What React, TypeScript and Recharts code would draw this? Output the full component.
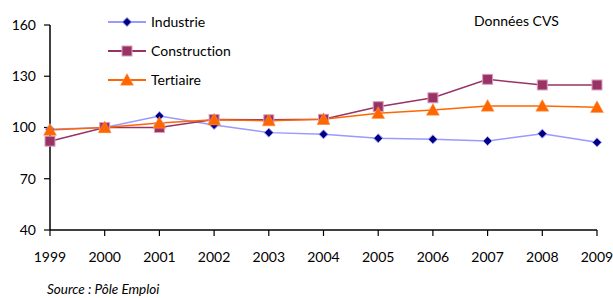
import { Line, LineChart, XAxis, YAxis } from "recharts";

const years = ["1999", "2000", "2001", "2002", "2003", "2004", "2005", "2006", "2007", "2008", "2009"];
const industrie = [99, 100, 106.7, 101.5, 97, 96, 93.7, 93.1, 92.1, 96.4, 91.3];
const construction = [92, 100, 100, 104.7, 104.5, 104.8, 112.2, 117.4, 128.2, 124.9, 124.9];
const tertiaire = [98.5, 100, 102.6, 104.5, 104, 104.8, 108.3, 110.2, 112.6, 112.6, 111.8];
const yTicks = [40, 70, 100, 130, 160];

const data = years.map((year, i) => ({
  year,
  industrie: industrie[i],
  construction: construction[i],
  tertiaire: tertiaire[i],
}));

const FONT = "Lato, 'Open Sans', sans-serif";

const series = [
  { key: "industrie", name: "Industrie", line: "#9999ff", fill: "#000080", stroke: "#9999ff", shape: "diamond" },
  { key: "construction", name: "Construction", line: "#993366", fill: "#993366", stroke: "#d9a0bc", shape: "square" },
  { key: "tertiaire", name: "Tertiaire", line: "#ff6600", fill: "#ff6600", stroke: "#ff9950", shape: "triangle" },
];

function Marker({ cx, cy, shape, fill, stroke }: { cx: number; cy: number; shape: string; fill: string; stroke: string }) {
  if (cx == null || cy == null) return null;
  if (shape === "diamond") {
    const r = 4.5;
    return (
      <polygon
        points={`${cx},${cy - r} ${cx + r},${cy} ${cx},${cy + r} ${cx - r},${cy}`}
        fill={fill}
        stroke={stroke}
        strokeWidth={1}
      />
    );
  }
  if (shape === "square") {
    const h = 5;
    return <rect x={cx - h} y={cy - h} width={h * 2} height={h * 2} fill={fill} stroke={stroke} strokeWidth={1} />;
  }
  const s = 6.5;
  return (
    <polygon
      points={`${cx},${cy - s} ${cx + s},${cy + s * 0.8} ${cx - s},${cy + s * 0.8}`}
      fill={fill}
      stroke={stroke}
      strokeWidth={0.5}
    />
  );
}

// legend drawn by hand, sits inside the plot top-left
function LegendBox() {
  return (
    <div style={{ position: "absolute", left: 108, top: 7, fontSize: 14, color: "#000", fontVariantLigatures: "none" }}>
      {series.map((s) => (
        <div key={s.key} style={{ display: "flex", alignItems: "center", height: 29 }}>
          <svg width={40} height={16}>
            <line x1={0} y1={8} x2={38} y2={8} stroke={s.line} strokeWidth={2} />
            <Marker cx={19} cy={8} shape={s.shape} fill={s.fill} stroke={s.stroke} />
          </svg>
          <span style={{ marginLeft: 3 }}>{s.name}</span>
        </div>
      ))}
    </div>
  );
}

export default function App() {
  return (
    <div style={{ position: "absolute", left: 0, top: 0, width: 613, height: 298, background: "#fff", fontFamily: FONT }}>
      <LineChart width={613} height={298} data={data} margin={{ top: 25, right: 16, bottom: 38, left: 0 }}>
        <XAxis
          dataKey="year"
          axisLine={{ stroke: "#000", strokeWidth: 1.5 }}
          tickLine={{ stroke: "#000", strokeWidth: 1.2 }}
          tickSize={6}
          tickMargin={16}
          tick={{ fontSize: 14, fill: "#000", fontFamily: FONT }}
          interval={0}
        />
        <YAxis
          width={50}
          domain={[40, 160]}
          ticks={yTicks}
          axisLine={{ stroke: "#000", strokeWidth: 1.5 }}
          tickLine={{ stroke: "#000", strokeWidth: 1.2 }}
          tickSize={6}
          tickMargin={8}
          tick={{ fontSize: 14, fill: "#000", fontFamily: FONT }}
        />
        {series.map((s) => (
          <Line
            key={s.key}
            type="linear"
            dataKey={s.key}
            name={s.name}
            stroke={s.line}
            strokeWidth={1.5}
            dot={(p: any) => <Marker key={`${s.key}-${p.index}`} cx={p.cx} cy={p.cy} shape={s.shape} fill={s.fill} stroke={s.stroke} />}
            activeDot={false}
            isAnimationActive={false}
          />
        ))}
      </LineChart>
      <LegendBox />
      <div style={{ position: "absolute", left: 474, top: 12, fontSize: 14, color: "#000" }}>Données CVS</div>
      <div style={{ position: "absolute", left: 47, top: 281, fontSize: 13.5, fontStyle: "italic", color: "#000" }}>
        Source : Pôle Emploi
      </div>
    </div>
  );
}
